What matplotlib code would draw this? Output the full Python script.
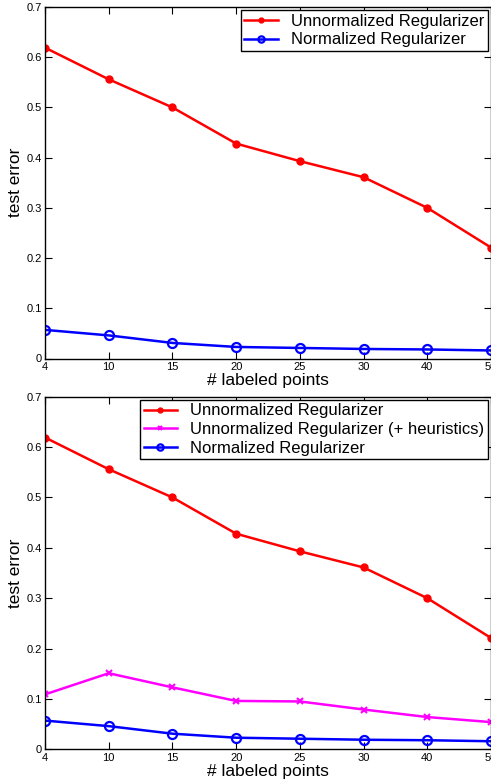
import matplotlib
matplotlib.use("Agg")
import matplotlib.pyplot as plt

n_labeled = ["4", "10", "15", "20", "25", "30", "40", "50"]
unnormalized = [0.619, 0.556, 0.500, 0.428, 0.393, 0.361, 0.300, 0.221]
normalized = [0.057, 0.046, 0.031, 0.023, 0.021, 0.019, 0.018, 0.016]
unnorm_heur = [0.109, 0.151, 0.123, 0.096, 0.095, 0.079, 0.064, 0.054]
ytick_vals = [0, 0.1, 0.2, 0.3, 0.4, 0.5, 0.6, 0.7]
ytick_labels = ["0", "0.1", "0.2", "0.3", "0.4", "0.5", "0.6", "0.7"]

plt.rcParams['font.family'] = ['Liberation Sans', 'DejaVu Sans']

W, H = 491, 782
fig = plt.figure(figsize=(W / 100, H / 100), dpi=100)

def make_ax(top_px, bottom_px):
    left_px, right_px = 45, 491
    return fig.add_axes([left_px / W, 1 - bottom_px / H,
                         (right_px - left_px) / W, (bottom_px - top_px) / H])

ax1 = make_ax(7, 358.5)
ax2 = make_ax(396.7, 749.3)

x = list(range(len(n_labeled)))

def style(ax):
    ax.set_xlim(0, len(n_labeled) - 1)
    ax.set_ylim(0, 0.7)
    ax.set_xticks(x)
    ax.set_xticklabels(n_labeled)
    ax.set_yticks(ytick_vals)
    ax.set_yticklabels(ytick_labels)
    ax.tick_params(direction='in', length=5, width=0.8, labelsize=8,
                   top=True, right=True, pad=2.5)
    for s in ax.spines.values():
        s.set_linewidth(1.0)
    ax.set_xlabel("# labeled points", fontsize=12.5, labelpad=1)
    ax.set_ylabel("test error", fontsize=12.5, labelpad=2)

leg_kw = dict(loc='upper right', fontsize=12, frameon=True, fancybox=False,
              edgecolor='black', framealpha=1, numpoints=1, handlelength=2.0,
              borderpad=0.2, labelspacing=0.22, handletextpad=0.8,
              borderaxespad=0.2, markerscale=0.7,
              bbox_to_anchor=(1.0, 1.0))

# Top panel
ax1.plot(x, unnormalized, color='red', lw=1.8, marker='o', ms=5,
         mfc='red', mec='red', label='Unnormalized Regularizer')
ax1.plot(x, normalized, color='blue', lw=1.8, marker='o', ms=6.5,
         mfc='none', mec='blue', mew=1.6, label='Normalized Regularizer')
style(ax1)
leg1 = ax1.legend(**leg_kw)
leg1.get_frame().set_linewidth(1.0)

# Bottom panel
ax2.plot(x, unnormalized, color='red', lw=1.8, marker='o', ms=5,
         mfc='red', mec='red', label='Unnormalized Regularizer')
ax2.plot(x, unnorm_heur, color='magenta', lw=1.8, marker='x', ms=4.5,
         mew=1.5, label='Unnormalized Regularizer (+ heuristics)')
ax2.plot(x, normalized, color='blue', lw=1.8, marker='o', ms=6.5,
         mfc='none', mec='blue', mew=1.6, label='Normalized Regularizer')
style(ax2)
leg2 = ax2.legend(**leg_kw)
leg2.get_frame().set_linewidth(1.0)

fig.savefig("out.png", dpi=100)
